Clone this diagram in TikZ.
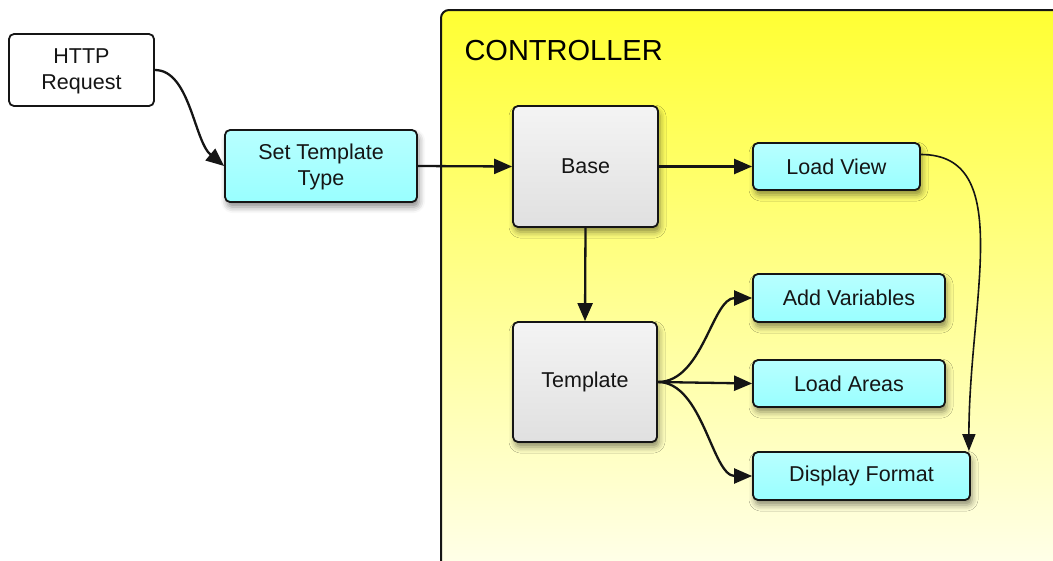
\documentclass[tikz,border=0pt]{standalone}
\usepackage{fontspec}
\setmainfont{Liberation Sans}
\usetikzlibrary{arrows.meta,shadows.blur}
\definecolor{ctltop}{HTML}{FFFF33}
\definecolor{ctlbot}{HTML}{FFFFF4}
\definecolor{cyantop}{HTML}{B8FFFF}
\definecolor{cyanbot}{HTML}{99FFFF}
\definecolor{greytop}{HTML}{F4F4F4}
\definecolor{greybot}{HTML}{E0E0E0}
\definecolor{ink}{HTML}{151515}
\begin{document}
\begin{tikzpicture}[x=1pt,y=-1pt,
  box/.style={draw=ink, line width=1.8pt, rounded corners=5pt, align=center,
    inner sep=0pt, text=ink, font=\fontsize{21.5}{26}\selectfont},
  shadowed/.style={blur shadow={shadow xshift=2pt, shadow yshift=-5pt,
    shadow blur radius=6pt, shadow opacity=45}},
  plainbox/.style={box, fill=white},
  stepbox/.style={box, shadowed, top color=cyantop, bottom color=cyanbot},
  corebox/.style={box, shadowed, top color=greytop, bottom color=greybot},
  link/.style={draw=ink, line width=2.3pt, -{Triangle[length=18pt,width=15pt]}},
  thinlink/.style={draw=ink, line width=1.6pt, -{Triangle[length=17pt,width=13pt]}}
]
\useasboundingbox (0,0) rectangle (1053,560);

% controller container
\path[draw=ink, line width=2pt, rounded corners=8pt, top color=ctltop, bottom color=ctlbot]
  (441,10) rectangle (1080,600);
\node[anchor=base west, text=black, font=\fontsize{29}{32}\selectfont] (ctl) at (461,60) {CONTROLLER};

% outer steps
\node[plainbox, minimum width=145pt, minimum height=72pt] (req) at (81.5,70) {\strut HTTP\\Request};
\node[stepbox, minimum width=192pt, minimum height=72pt] (stt) at (321,166) {\strut Set Template\\Type};

% controller parts
\node[corebox, minimum width=145pt, minimum height=121pt] (base) at (585.5,166.5) {Base};
\node[corebox, minimum width=144pt, minimum height=120pt] (tpl) at (585,382) {Template};
\node[stepbox, minimum width=167pt, minimum height=47pt] (lv) at (836.5,166.5) {Load View};
\node[stepbox, minimum width=192pt, minimum height=48pt] (av) at (849,298) {Add Variables};
\node[stepbox, minimum width=192pt, minimum height=47pt] (la) at (849,383.5) {Load Areas};
\node[stepbox, minimum width=217pt, minimum height=48pt] (df) at (861.5,476) {Display Format};

% connectors
\draw[link] (req.east) .. controls +(35,0) and +(-30,-25) .. (stt.west);
\draw[link] (stt.east) -- (base.west);
\draw[link] (base.east) -- (lv.west);
\draw[link] (base.south) -- (tpl.north);
\draw[link] (tpl.east) .. controls +(45,0) and +(-40,0) .. (av.west);
\draw[link] (tpl.east) -- (la.west);
\draw[link] (tpl.east) .. controls +(45,0) and +(-40,0) .. (df.west);
\coordinate (lvout) at ([yshift=12pt]lv.east);
\coordinate (dfin) at ([xshift=-2pt]df.north east);
\draw[thinlink] (lvout) .. controls +(95,0) and +(0,-150) .. (dfin);
\end{tikzpicture}
\end{document}
